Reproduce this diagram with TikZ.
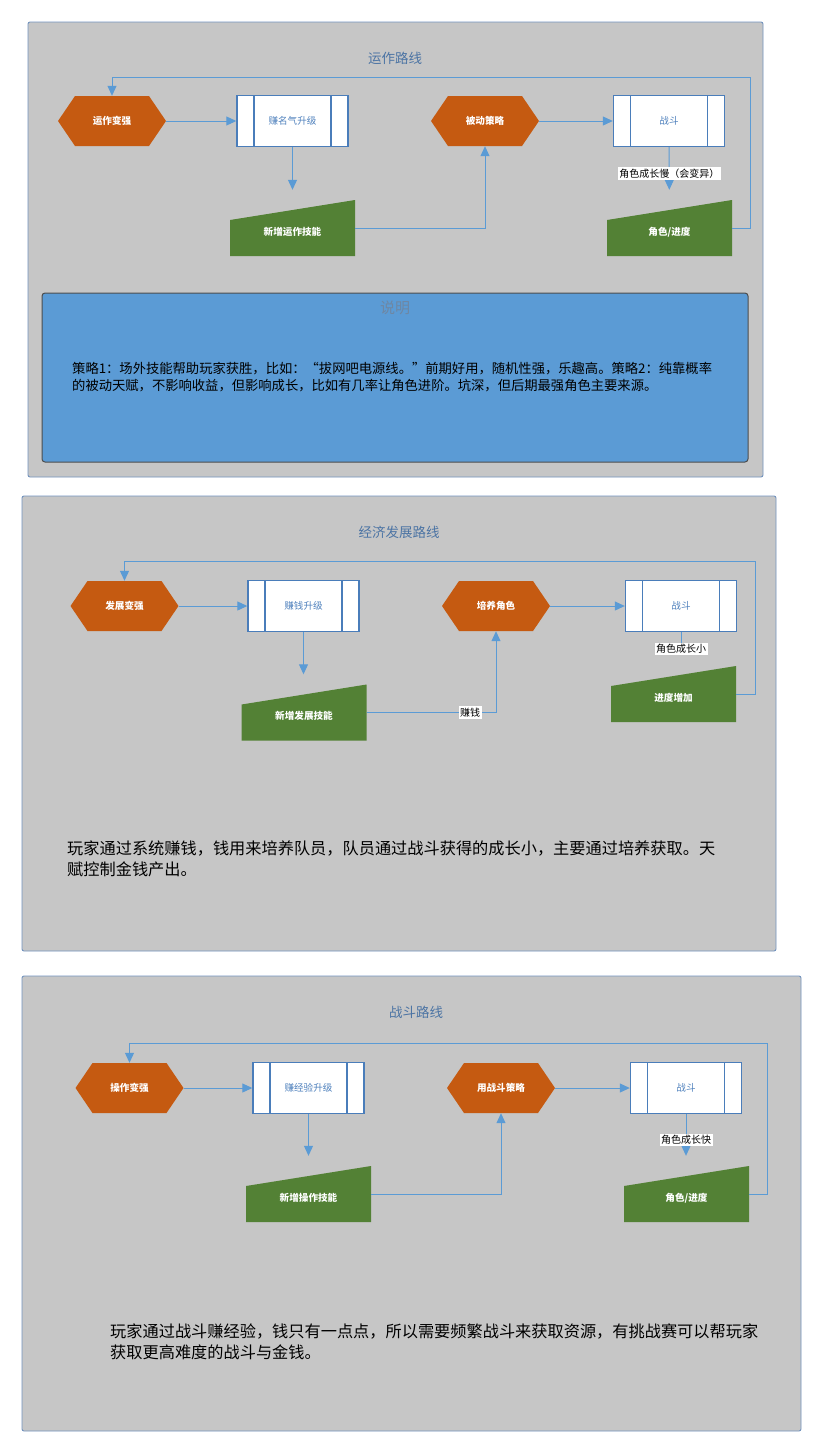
\documentclass[tikz,border=0pt]{standalone}
\usepackage{fontspec}
\setmainfont{Noto Sans CJK SC}
\usetikzlibrary{arrows.meta}
\definecolor{panelfill}{HTML}{C6C6C6}
\definecolor{panelline}{HTML}{7393BE}
\definecolor{titleblue}{HTML}{4C74A4}
\definecolor{hexorange}{HTML}{C55A11}
\definecolor{mangreen}{HTML}{538135}
\definecolor{arrowblue}{HTML}{5B9BD5}
\definecolor{boxblue}{HTML}{4A7DBA}
\definecolor{boxtext}{HTML}{4F81BD}
\definecolor{infofill}{HTML}{5B9BD5}
\definecolor{infoline}{HTML}{4D4D4D}
\definecolor{infotitle}{HTML}{6E87A3}
\newcommand{\nodefnt}{\fontsize{9.6}{11}\selectfont}
\tikzset{
  panel/.style={draw=panelline, line width=0.9pt, fill=panelfill, rounded corners=2pt},
  info/.style={draw=infoline, line width=1pt, fill=infofill, rounded corners=3pt},
  ptitle/.style={text=titleblue, font=\fontsize{13.5}{15}\selectfont, inner sep=0pt},
  ititle/.style={text=infotitle, font=\fontsize{15}{17}\selectfont, inner sep=0pt},
  bodytext/.style={text=black, align=left, inner sep=0pt, anchor=north west},
  hexa/.style={minimum width=108pt, minimum height=50pt, inner sep=0pt,
    font=\nodefnt\bfseries, text=white,
    path picture={\fill[hexorange] (path picture bounding box.west)
      -- ([xshift=17pt]path picture bounding box.north west)
      -- ([xshift=-17pt]path picture bounding box.north east)
      -- (path picture bounding box.east)
      -- ([xshift=-17pt]path picture bounding box.south east)
      -- ([xshift=17pt]path picture bounding box.south west) -- cycle;}},
  manin/.style={minimum width=125pt, minimum height=56pt, inner sep=0pt,
    font=\nodefnt\bfseries, text=white, text height=15pt, text depth=1pt,
    path picture={\fill[mangreen] (path picture bounding box.south west)
      -- (path picture bounding box.south east)
      -- (path picture bounding box.north east)
      -- ([yshift=-20pt]path picture bounding box.north west) -- cycle;}},
  proc/.style={draw=boxblue, line width=1.4pt, fill=white, minimum width=111pt,
    minimum height=51pt, inner sep=0pt, font=\nodefnt, text=boxtext,
    path picture={\draw[boxblue, line width=1.4pt]
      ([xshift=17pt]path picture bounding box.north west) -- ([xshift=17pt]path picture bounding box.south west)
      ([xshift=-17pt]path picture bounding box.north east) -- ([xshift=-17pt]path picture bounding box.south east);}},
  arr/.style={draw=arrowblue, line width=1pt, -{Triangle[length=10pt,width=9pt]}},
  elabel/.style={fill=white, text=black, inner sep=1.5pt, font=\fontsize{10}{11}\selectfont}
}
\begin{document}
\begin{tikzpicture}[x=1pt,y=-1pt]
\useasboundingbox (0,0) rectangle (823,1454);
\fill[white] (0,0) rectangle (823,1454);

% ---------- Panel 1 ----------
\draw[panel] (28,22) rectangle (763,477);
\node[ptitle] (t1) at (395,58) {运作路线};
\node[hexa] (h1) at (112,121) {运作变强};
\node[proc] (p1) at (292.5,121) {赚名气升级};
\node[manin] (m1) at (292.5,228) {新增运作技能};
\node[hexa] (h2) at (485,121) {被动策略};
\node[proc] (p2) at (669,121) {战斗};
\node[manin] (m2) at (669.5,228) {角色/进度};
\coordinate (f1) at (750,77);
\draw[arr] (h1) -- (p1);
\draw[arr, shorten >=10pt] (p1) -- (m1);
\draw[arr] (m1.east) -| (h2.south);
\draw[arr] (h2) -- (p2);
\draw[arr, shorten >=10pt] (p2) -- node[elabel] {角色成长慢（会变异）} (m2);
\draw[arr] (m2.east) -| (f1) -| (h1.north);

\draw[info] (42,293) rectangle (748,462);
\node[ititle] (t1b) at (395,308) {说明};
\node[bodytext, font=\fontsize{13.3}{17}\selectfont] (d1) at (72,362)
  {策略1：场外技能帮助玩家获胜，比如：“拔网吧电源线。”前期好用，随机性强，乐趣高。策略2：纯靠概率\\
   的被动天赋，不影响收益，但影响成长，比如有几率让角色进阶。坑深，但后期最强角色主要来源。};

% ---------- Panel 2 ----------
\draw[panel] (22,496) rectangle (776,951);
\node[ptitle] (t2) at (399,532) {经济发展路线};
\node[hexa] (h3) at (124.5,606) {发展变强};
\node[proc] (p3) at (303.5,606) {赚钱升级};
\node[manin] (m3) at (304,712.5) {新增发展技能};
\node[hexa] (h4) at (496,606) {培养角色};
\node[proc] (p4) at (681,606) {战斗};
\node[manin] (m4) at (673.5,694) {进度增加};
\coordinate (f2) at (755,561);
\draw[arr] (h3) -- (p3);
\draw[arr, shorten >=10pt] (p3.south) -- (p3.south |- m3.north);
\draw[arr] (m3.east) -| node[elabel, pos=0.4] {赚钱} (h4.south);
\draw[arr] (h4) -- (p4);
\draw[arr, shorten >=11pt] (p4.south) -- node[elabel] {角色成长小} (p4.south |- m4.north);
\draw[arr] (m4.east) -| (f2) -| (h3.north);
\node[bodytext, font=\fontsize{16.2}{21}\selectfont] (d2) at (67,841)
  {玩家通过系统赚钱，钱用来培养队员，队员通过战斗获得的成长小，主要通过培养获取。天\\
   赋控制金钱产出。};

% ---------- Panel 3 ----------
\draw[panel] (22,976) rectangle (801,1431);
\node[ptitle] (t3) at (416,1012) {战斗路线};
\node[hexa] (h5) at (129.5,1088) {操作变强};
\node[proc] (p5) at (308.5,1088) {赚经验升级};
\node[manin] (m5) at (308.5,1194) {新增操作技能};
\node[hexa] (h6) at (501,1088) {用战斗策略};
\node[proc] (p6) at (686,1088) {战斗};
\node[manin] (m6) at (686.5,1194) {角色/进度};
\coordinate (f3) at (767,1043);
\draw[arr] (h5) -- (p5);
\draw[arr, shorten >=10pt] (p5.south) -- (p5.south |- m5.north);
\draw[arr] (m5.east) -| (h6.south);
\draw[arr] (h6) -- (p6);
\draw[arr, shorten >=10pt] (p6.south) -- node[elabel] {角色成长快} (p6.south |- m6.north);
\draw[arr] (m6.east) -| (f3) -| (h5.north);
\node[bodytext, font=\fontsize{16.2}{21}\selectfont] (d3) at (110,1324)
  {玩家通过战斗赚经验，钱只有一点点，所以需要频繁战斗来获取资源，有挑战赛可以帮玩家\\
   获取更高难度的战斗与金钱。};
\end{tikzpicture}
\end{document}
